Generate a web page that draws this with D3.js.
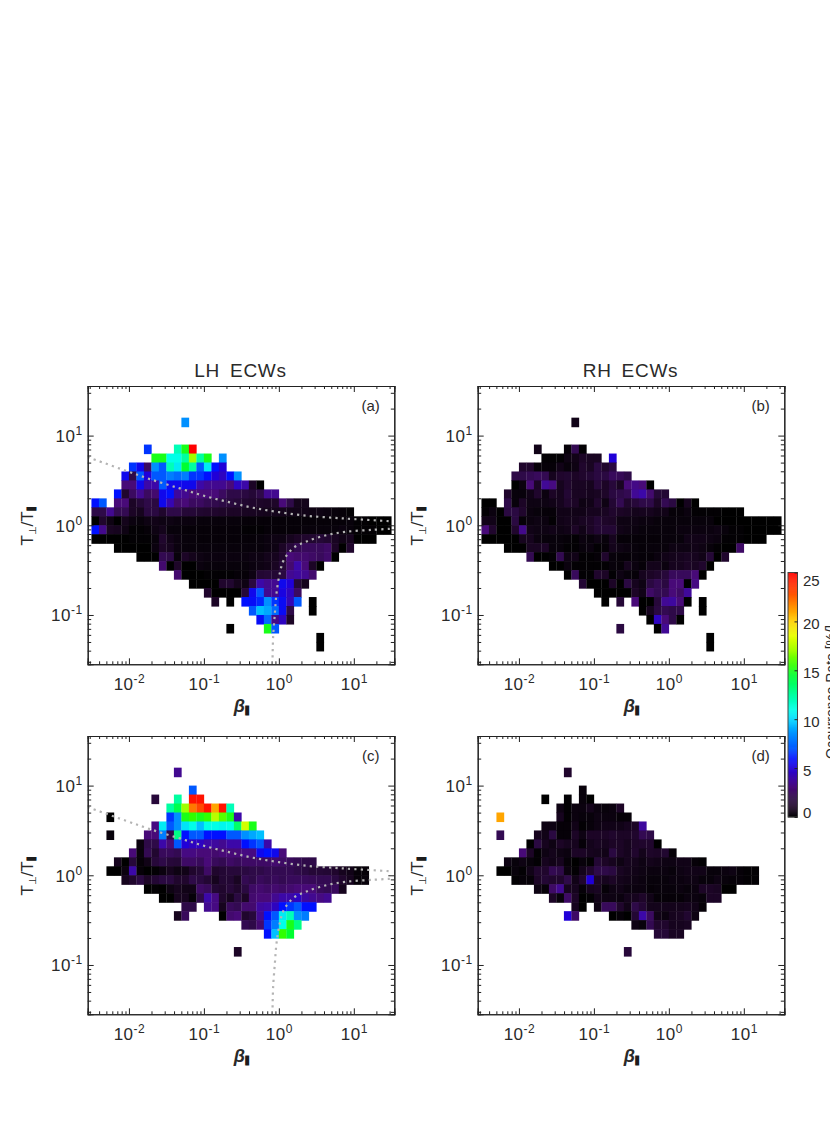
<!DOCTYPE html>
<html>
<head>
<meta charset="utf-8">
<title>ECW occurrence rate</title>
<script src="https://cdn.jsdelivr.net/npm/d3@7"></script>
<style>
html, body { margin: 0; padding: 0; background: #fff; overflow: hidden; }
text { font-family: "Liberation Sans", Arial, sans-serif; fill: #2a2a2a; }
</style>
</head>
<body>
<div id="chart"></div>
<script>
// each row: [row index (log10 y * 10), first column (0 = beta 10^-2.5, 0.1 dex wide), occurrence rate %]
var panelA = [
    [11, 12, [8.5]],
    [8, 7, [6.5]], [8, 11, [12, 15, 25]],
    [7, 8, [15, 15, 11, 11, 12.5, 17, 12.5, 15, null, 8.5]],
    [6, 5, [6.5, 5.5, 2.5, 8.5, 7, 12, 10.5, 14.5, 12.5, 7, 10.5, 6, 5]],
    [5, 4, [5.5, 2, 7, 5, 7, 7, 8, 7.5, 8, 6.5, 6.5, 6, 5, 4.5, 6, 8.5]],
    [4, 4, [3, 3, 5.5, 4, 4, 7, 5.5, 5.5, 5.5, 5.5, 4, 3.5, 3.5, 3.5, 3, 4.5, 4, 1, 0]],
    [3, 3, [6, 1.2, 2.5, 3.5, 2.5, 2.8, 5.5, 6, 3.8, 3.5, 3, 3, 3, 3, 2.5, 2, 2, 1.8, 1.5, 2, 3.5, 3.5]],
    [2, 0, [6, 7, null, 3, 3, 1, 1.5, 2, 1.8, 5.5, 4.2, 2.8, 3, 2.5, 2.5, 2.2, 2.1, 1.9, 1.7, 1.5, 1.3, 1.2, 1.1, 1, 1.1, 3, 2, .7, .7]],
    [1, 0, [2, 2, 3.5, 2.2, 2.2, 1, .8, 1.8, 1.8, 1.2, 2, 2, 1.5, 1.5, 1.3, 1.2, 1.2, 1.1, 1, 1, .9, .9, .8, .7, .7, .7, .6, .6, .6, .5, .5, .4, .3, .2, .1]],
    [0, 0, [0, 1.2, .5, 0, .7, .4, .3, .5, .6, .5, .5, .4, .4, .4, .3, .3, .3, .3, .3, .3, .2, .2, .2, .2, .2, .2, .2, .2, .2, .2, .2, .2, .2, .2, .3, .1, .1, 0, 0, 0]],
    [-1, 0, [6, 3.4, .9, .8, .5, .1, .1, .2, .5, .7, .3, .3, .2, .2, .2, .2, .2, .2, .2, .2, .1, .1, .1, .2, .2, .2, .2, .2, .3, .3, .3, .3, .3, .4, .3, .1, .1, .1, 0, 0]],
    [-2, 0, [0, 0, 0, 0, 0, .1, .1, .1, .3, 1.2, .6, .4, .3, .3, .2, .2, .2, .2, .2, .2, .2, .2, .3, .4, .5, .5, .8, 1, 1.2, 1.3, 1.5, 1.3, .9, .6, .8, 0, 0, 0]],
    [-3, 3, [0, 0, 0, 0, 0, .4, 1, .8, .4, .3, .3, .3, .3, .3, .3, .3, .3, .3, .3, .3, .4, .5, 1, 1.6, 2.2, 2.4, 2.4, 2.4, 2.6, 1, 0, 1.2]],
    [-4, 6, [0, 0, 0, 2.2, 2, .3, 1, .7, .5, .4, .4, .4, .4, .4, .4, .5, .5, .7, .8, 1.2, 3, 2.8, 2.8, 2.6, 2.4, 2.7, 0]],
    [-5, 9, [2.8, 0, 1.1, 0, 0, .4, .3, .3, .3, .3, .3, .3, .4, .5, .6, .9, 1.5, 2.8, 4, 3, 1, 0]],
    [-6, 11, [2.8, 0, 0, 0, .1, .1, .1, .1, .2, .2, .5, 1.4, 1.5, 1.4, 1.8, 3.5, 3.8, 3.5, 2.8]],
    [-7, 13, [0, 0, 0, 0, 1.2, 1.3, .7, .5, 1.8, 4, 3.5, 3.5, 5.5, 5, 1.5, .8]],
    [-8, 15, [1.2, 0, 0, 0, 0, 1.5, 5.5, 7, 3.5, 3.5, 5.2, 4.5, 2.5]],
    [-9, 16, [1]], [-9, 18, [0]], [-9, 20, [6, 5.8, 6.3, 8.5, 6.5, 5.7, 4.3, 7]], [-9, 29, [0]],
    [-10, 21, [7, 9.5, 9, 7.5, 5.7, 2]], [-10, 29, [0]],
    [-11, 22, [5.8, 7.5, 3.3, 4.5, 1]],
    [-12, 18, [0]], [-12, 23, [15, 7]],
    [-13, 30, [0]],
    [-14, 30, [0]]
];

var panelB = [
    [11, 12, [.6]],
    [8, 7, [.6]], [8, 11, [.2, 2.2, .1]],
    [7, 8, [.1, .1, .1, .5, .6, 1, .9, .9, null, 5]],
    [6, 5, [1.2, 1.2, .2, .2, .2, .6, .3, .5, 1.2, .9, 1.8, 1.2, 1.8]],
    [5, 4, [2, 2, 2.2, 2.4, 2.2, .8, 1.2, 1.3, 1, 1.2, 1.4, 1.8, 1.8, 2.4, 2.3, 2]],
    [4, 4, [0, .4, 3, 1, 3.6, 3.2, .8, 1.2, .9, .9, .8, 1.6, 1, 1.6, .9, 3, 3.3, 3, 0]],
    [3, 3, [1.2, .3, .3, .6, 1.2, .4, 1, .8, 1.4, .9, .9, .8, .9, 1.1, 1.8, 2, 2.2, 3.6, 4, 2.8, 1.5, 1.4]],
    [2, 0, [0, 0, null, 2, .3, 1, .5, .5, .5, .6, .8, 1.2, 1, .5, .6, 1.2, .5, 1.4, 2.2, 1.2, 1.6, 2, 2, 1, 2.2, 1.8, 0, .8, 0]],
    [1, 0, [.1, .4, 0, 1.8, 1.8, 1.2, .4, .3, .2, .2, .6, .6, .6, .6, .8, .8, .9, 1.2, 1, .9, .7, .8, .8, .6, .6, .2, .2, .4, .1, .1, .1, .1, 0, 0, 0]],
    [0, 0, [.6, .6, 0, 0, 1.8, .2, .4, .5, .4, .1, .6, .7, .7, .9, 1, 1.4, 1.1, 1, .5, .5, .5, .4, .4, .3, .3, .3, .3, .3, .3, .3, .3, 0, 0, 0, 0, 0, 0, 0, 0, 0]],
    [-1, 0, [3, 1.2, 0, 0, 1.2, 3.4, .6, .5, .5, .6, .5, .6, 1, .6, 1, 1.4, 1.4, 1.4, .6, .5, .4, .3, .3, .3, .3, .3, .4, .4, .4, .4, .4, .5, .3, .1, .1, 0, 0, 0, 0, 0]],
    [-2, 0, [0, 0, 0, 0, 0, .8, .8, .4, .3, .3, .3, .2, .1, .4, .3, .5, .3, .8, .2, .2, .2, .2, .2, .2, .3, .3, .3, .6, .6, .6, .5, .4, .1, .1, .1, 0, 0, 0]],
    [-3, 3, [0, 0, 0, .9, .9, 1, .3, .3, .1, .1, .3, .4, .1, .2, .7, .5, .4, .3, .2, .3, .3, .3, .5, .5, .5, .6, .5, .3, .1, 0, 0, 2.6]],
    [-4, 6, [2.2, 0, 0, .1, 2.2, .5, .6, .1, .1, .2, 1.2, .3, .2, .2, .3, .2, .2, .4, .6, .7, .8, .9, .8, .6, 1.5, 0, 1.2]],
    [-5, 9, [0, 0, .4, .1, .1, .1, .1, .1, .3, .2, .8, .4, .2, .7, .7, .4, .8, .8, 1, .9, 1.2, 0]],
    [-6, 11, [0, 2.4, .1, .1, 1.2, 1, .1, .5, .3, .2, .8, 1, 1.2, 1.6, 2.4, 2.4, 2.4, 3, 0]],
    [-7, 13, [1.4, 0, 0, 0, 1, 0, 1.8, .8, .5, 1.8, 2.2, 1.8, 3, 3, 0, 3.2]],
    [-8, 15, [0, 0, 0, 0, 0, 1, .6, 2.6, 2.2, 2.2, 3, 2.6, 3.7]],
    [-9, 16, [0]], [-9, 18, [1.5]], [-9, 20, [3, 0, 0, 1.6, 3.6, 3.8, 3, 0]], [-9, 29, [0]],
    [-10, 21, [0, .8, 1.8, 2.2, 2, 2]], [-10, 29, [0]],
    [-11, 22, [0, 4.5, 3, 2, 0]],
    [-12, 18, [1.8]], [-12, 23, [0, 3.6]],
    [-13, 30, [0]],
    [-14, 30, [0]]
];

var panelC = [
    [11, 11, [3.5]],
    [9, 13, [7]],
    [8, 8, [1.6]], [8, 11, [12.5, null, 24.5, 24.5]],
    [7, 10, [12.5, 14, 17, 22, 23, 24.5, 21, 24.5, 12]],
    [6, 2, [0]], [6, 10, [6.5, 8.5, 15, 15.5, 15, 15.5, 17.5, 16, 15, 4]],
    [5, 8, [3.2, 10.5, 7, 8.5, 10.3, 11, 9.5, 11, 11, 10.8, 11, 13.5, 18, 15]],
    [4, 2, [.3]], [4, 7, [3, 3, 8, 2, 13, 6, 7, 7, 6, 6, 6, 7, 7, 8.5, 9, 9.5]],
    [3, 6, [.4, 2, 2, 4, 3, 7, 5, 4.5, 4.5, 4, 3.8, 3.5, 4, 4, 6, 6.5, 7, 4]],
    [2, 5, [3, .3, 2.2, 1.3, 2.4, 2.4, 2.2, 3.2, 3.2, 3, 3, 2.8, 3, 3, 3, 3.2, 3.2, 5.5, 6, 5.5, 3]],
    [1, 3, [.8, 0, 1.6, .2, .6, 1.6, 2, 1.6, 1.5, 2.6, 2.6, 2.4, 3, 2.4, 2.2, 2.6, 2.4, 2.6, 2.6, 2.6, 2.6, 2.8, 2.6, 2.4, 2.2, 2, 2]],
    [0, 2, [0, 0, .4, 4, .2, 0, .1, .4, .8, .5, .6, 1.2, 1.5, 2.6, 1.2, 1.4, 1.6, 1.6, 1.8, 2, 2, 2.2, 2.2, 2.2, 2.2, 2, 1.8, 1.5, 1.5, 1.4, 1.2, .8, .6, .2, .2]],
    [-1, 4, [.8, 1.2, 1.8, 1, 1.4, 1.8, 1.8, 1.2, 1.2, 2, 1.8, 1.4, .8, 1.4, 1.4, .9, 2.2, 2, 2.4, 2.2, 2.4, 2.2, 2.4, 2.4, 2.4, 2.3, 2.2, 2.2, 1.8, 1.2, .8, .2, .3]],
    [-2, 7, [0, .1, 0, .5, .8, .6, .6, 2.6, 2.4, 1.4, 1.2, 1.6, 1.2, 1.8, 2.6, 2.8, 2.6, 2.8, 2.6, 2.8, 3, 3, 3, 2.4, 2.2, 2.4, .8]],
    [-3, 9, [0, 0, .8, .8, .2, 2, 4, 3.2, 1.2, .8, 1.8, 1, 2.8, 3, 3, 3.5, 4, 4, 4.5, 3.8, 3.5, 3.2, 3.5]],
    [-4, 12, [2, 2, null, 3.5, 3.2, .8, 2.4, 2.2, 2.8, 2.8, 3.8, 4, 4.5, 6, 6.5, 7, 6, 6]],
    [-5, 11, [.8, 2.4]], [-5, 17, [0, 2.8, 3, 1.2, 1.6, 3.5, 6, 7, 10.5, 12, 8.5, 8]],
    [-6, 20, [2.2, 2, 2.8, 6.5, 8, 11, 15, 13]],
    [-7, 23, [6, 9.5, 15.5, 14.5]],
    [-9, 19, [1]]
];

var panelD = [
    [11, 11, [1.2]],
    [9, 13, [.3]],
    [8, 8, [0]], [8, 11, [.1, null, .3, 0]],
    [7, 10, [.5, .1, .4, .4, .7, .4, .3, .4, 1]],
    [6, 2, [21]], [6, 10, [.8, .1, .4, .3, .3, .5, .4, .4, .2, .2]],
    [5, 8, [.5, .5, .2, .2, .6, .1, .3, .5, .6, .6, .6, .8, 1, 3.8]],
    [4, 2, [2.2]], [4, 7, [.8, .6, 1.8, .2, .2, 1, .5, 1, 1, 1, 1.2, 1, 1, 1.2, 2.2, 2]],
    [3, 6, [0, 1.8, .8, .5, 1, .8, .8, .2, .7, .9, .8, 1, 1, .8, 1.1, 1.2, 1.2, 0]],
    [2, 5, [3, 1, .1, .5, .7, .5, .4, 1, 1, .8, .7, .6, 1.8, 1, .8, 1.2, .7, 1.1, 1, 1.3, .2]],
    [1, 3, [.5, .3, .5, .3, .1, .8, .6, .8, .2, 0, .3, .1, 1.4, 1, .8, .5, .8, .7, .5, .7, .6, .5, .5, .6, .6, .2, .1]],
    [0, 2, [0, 0, .3, .1, .6, 1.2, 1.2, 2.2, 2, .4, .1, .7, 1.2, 2, 2, 1.8, .9, .7, .6, .5, .4, .4, .4, .3, .5, .6, .6, .6, .3, .3, .4, .5, .2, .1, .1]],
    [-1, 4, [.1, .2, .2, 1, 1.4, 1.2, 1.2, 2, .6, 1.2, 5, 1, .8, 1, .7, .6, .5, .4, .3, .3, .3, .4, .4, .5, .5, .3, .3, .5, .3, .2, .2, .1, .1]],
    [-2, 7, [.5, .2, 2.6, 3.5, .8, .8, .2, .8, .9, .2, .5, .6, .4, .4, .4, .2, .3, .3, .3, .4, .3, .4, 1, 1, .9, 0, 0]],
    [-3, 9, [1, .3, 2.6, 1, 0, .1, .6, .5, .5, .4, .7, .8, 1.1, .6, .2, .2, .2, .2, .4, .4, .3, 1, 1]],
    [-4, 12, [.8, 0, null, .5, 2.4, 2.4, 1.2, .6, 2, 1.4, .7, .7, .7, .7, .7, .8, .6, .2]],
    [-5, 11, [5, 2.6]], [-5, 17, [0, .2, 0, 1.4, 4, 2.5, .6, .4, .8, .9, 1.3, .5]],
    [-6, 20, [.5, .3, 2.2, 1.2, 1.2, .8, .8, .9]],
    [-7, 23, [1.5, 1.5, .9, .9]],
    [-9, 19, [1.6]]
];

// dotted threshold curves, [log10 beta, log10 T ratio]
var upperCurve = [[-2.55, .76], [-2.05, .611], [-1.72, .515], [-1.32, .411], [-1, .329], [-.653, .255],
    [-.342, .195], [0, .147], [.369, .106], [.724, .084], [1, .069], [1.48, .046]];
var lowerCurve = [[-.084, -1.474], [-.076, -1.24], [-.053, -.98], [-.031, -.757], [.013, -.533], [.067, -.385],
    [.191, -.255], [.369, -.18], [.636, -.11], [.902, -.072], [1.258, -.05], [1.48, -.04]];

var xTicks = [0.01, 0.1, 1, 10];
var xTickExp = ["-2", "-1", "0", "1"];
var yTicks = [0.1, 1, 10];
var yTickExp = ["-1", "0", "1"];
var colorbarTicks = [0, 5, 10, 15, 20, 25];
var panelNames = ["(a)", "(b)", "(c)", "(d)"];

var plotW = 306.6, plotH = 278.3;
var svg = d3.select("#chart").append("svg")
    .attr("width", 830).attr("height", 1127)
    .style("display", "block");

var x = d3.scaleLog().domain([Math.pow(10, -2.55), Math.pow(10, 1.54)]).range([0, plotW]);
var y = d3.scaleLog().domain([Math.pow(10, -1.55), Math.pow(10, 1.553)]).range([plotH, 0]);

var color = d3.scaleLinear()
    .domain([0, 1, 2, 3, 4, 5, 6, 7, 8.5, 10, 11, 12.5, 14.5, 15.5, 17, 18.5, 20, 21.5, 23, 25])
    .range(["#000000", "#1c0526", "#2e0a48", "#480a78", "#3c08a8", "#2000d8", "#0010ff", "#0058ff", "#0090ff",
        "#00d8ff", "#00ffe8", "#00ffa0", "#00ff30", "#30ff00", "#a0ff00", "#e8ff00", "#ffd000", "#ff9000", "#ff4800", "#ff0000"])
    .clamp(true);

function minorTicks(scale) {
    var out = [];
    var dom = scale.domain();
    d3.range(-3, 2).forEach(function (k) {
        d3.range(2, 10).forEach(function (m) {
            var v = m * Math.pow(10, k);
            if (v > dom[0] && v < dom[1]) out.push(v);
        });
    });
    return out;
}

function exponentLabels(sel, exps) {
    sel.selectAll("text").each(function (d, i) {
        var t = d3.select(this).text("10");
        t.append("tspan").attr("dy", -7).attr("font-size", 12).text(exps[i]);
    });
}

function drawAxes(g) {
    // minor ticks first, then the majors with labels
    g.append("g").attr("transform", "translate(0," + plotH + ")")
        .call(d3.axisBottom(x).tickValues(minorTicks(x)).tickSize(-3).tickFormat(""));
    g.append("g")
        .call(d3.axisTop(x).tickValues(minorTicks(x)).tickSize(-3).tickFormat(""));
    g.append("g")
        .call(d3.axisLeft(y).tickValues(minorTicks(y)).tickSize(-3.5).tickFormat(""));
    g.append("g").attr("transform", "translate(" + plotW + ",0)")
        .call(d3.axisRight(y).tickValues(minorTicks(y)).tickSize(-3.5).tickFormat(""));

    var bottom = g.append("g").attr("transform", "translate(0," + plotH + ")")
        .call(d3.axisBottom(x).tickValues(xTicks).tickSize(-6).tickFormat(""));
    bottom.selectAll("text").attr("y", 25.7).attr("dy", 0).attr("font-size", 17)
        .style("letter-spacing", "0.5px").text("x");
    exponentLabels(bottom, xTickExp);

    g.append("g").call(d3.axisTop(x).tickValues(xTicks).tickSize(-6).tickFormat(""));

    var left = g.append("g")
        .call(d3.axisLeft(y).tickValues(yTicks).tickSize(-6).tickFormat(""));
    left.selectAll("text").attr("x", -5).attr("dy", 6).attr("font-size", 17)
        .style("letter-spacing", "0.5px").text("x");
    exponentLabels(left, yTickExp);

    g.append("g").attr("transform", "translate(" + plotW + ",0)")
        .call(d3.axisRight(y).tickValues(yTicks).tickSize(-6).tickFormat(""));

    g.selectAll(".domain").attr("stroke", "#222").attr("stroke-width", 1.1);
    g.selectAll(".tick line").attr("stroke", "#222");
    // axis groups set their own font, put ours back
    g.selectAll("g").attr("font-family", null).attr("font-size", null);

    var xt = g.append("text").attr("x", plotW / 2 + 0.5).attr("y", plotH + 47.5).attr("text-anchor", "middle");
    xt.append("tspan").attr("font-size", 18).attr("font-weight", "bold").attr("font-style", "italic").text("β");
    xt.append("tspan").attr("font-size", 9).attr("font-weight", "bold").attr("dy", 1)
        .style("font-family", "DejaVu Sans").style("stroke", "#1c1c1c").style("stroke-width", 1.2).text("∥");

    var yt = g.append("text")
        .attr("transform", "translate(-54.7," + (plotH / 2 + 1) + ") rotate(-90)")
        .attr("text-anchor", "middle").attr("font-size", 17);
    yt.append("tspan").text("T");
    yt.append("tspan").attr("font-size", 10).attr("dy", 3).style("font-family", "DejaVu Sans").text("⊥");
    yt.append("tspan").attr("dy", -3).text("/T");
    yt.append("tspan").attr("font-size", 9).attr("font-weight", "bold").attr("dy", 1)
        .style("font-family", "DejaVu Sans").style("stroke", "#1c1c1c").style("stroke-width", 1.2).text("∥");
}

function drawPanel(rows, left, top, name, idx, showCurves) {
    var g = svg.append("g").attr("transform", "translate(" + left + "," + top + ")");

    // flatten rows into cells
    var cells = [];
    rows.forEach(function (r) {
        r[2].forEach(function (v, i) {
            if (v !== null) cells.push({ row: r[0], col: r[1] + i, value: v });
        });
    });

    // a hair of overlap so the seams stay faint
    g.selectAll("rect.cell").data(cells).enter().append("rect")
        .attr("class", "cell")
        .attr("x", function (d) { return x(Math.pow(10, -2.5 + d.col / 10)); })
        .attr("y", function (d) { return y(Math.pow(10, (d.row + 1) / 10)); })
        .attr("width", function (d) {
            return x(Math.pow(10, -2.5 + (d.col + 1) / 10)) - x(Math.pow(10, -2.5 + d.col / 10)) + 0.25;
        })
        .attr("height", function (d) {
            return y(Math.pow(10, d.row / 10)) - y(Math.pow(10, (d.row + 1) / 10)) + 0.6;
        })
        .attr("fill", function (d) { return color(d.value); });

    if (showCurves) {
        var clipId = "clip" + idx;
        svg.append("clipPath").attr("id", clipId).append("rect")
            .attr("width", plotW).attr("height", plotH);
        var line = d3.line()
            .x(function (d) { return x(Math.pow(10, d[0])); })
            .y(function (d) { return y(Math.pow(10, d[1])); })
            .curve(d3.curveCatmullRom);
        [upperCurve, lowerCurve].forEach(function (c) {
            g.append("path").attr("d", line(c))
                .attr("clip-path", "url(#" + clipId + ")")
                .attr("fill", "none")
                .attr("stroke", "#b4b4b4")
                .attr("stroke-width", 2.2)
                .attr("stroke-dasharray", "2.2 4.2");
        });
    }

    drawAxes(g);

    g.append("text").attr("x", 283).attr("y", 25).attr("text-anchor", "middle")
        .attr("font-size", 15).text(name);
    return g;
}

var lefts = [87.7, 477.7];
var tops = [386, 736];
drawPanel(panelA, lefts[0], tops[0], panelNames[0], 0, true);
drawPanel(panelB, lefts[1], tops[0], panelNames[1], 1, false);
drawPanel(panelC, lefts[0], tops[1], panelNames[2], 2, true);
drawPanel(panelD, lefts[1], tops[1], panelNames[3], 3, false);

// column titles
svg.append("text").attr("x", 240.5).attr("y", 377).attr("text-anchor", "middle")
    .attr("font-size", 19).style("letter-spacing", "0.7px").style("word-spacing", "4px").text("LH ECWs");
svg.append("text").attr("x", 630.5).attr("y", 377).attr("text-anchor", "middle")
    .attr("font-size", 19).style("letter-spacing", "0.7px").style("word-spacing", "4px").text("RH ECWs");

// colour bar
var barScale = d3.scaleLinear().domain([0, 25]).range([817, 572.5]);
var bar = svg.append("g").attr("transform", "translate(788,0)");
bar.selectAll("rect.step").data(d3.range(0, 25, 0.1)).enter().append("rect")
    .attr("class", "step")
    .attr("x", 0).attr("width", 9.5)
    .attr("y", function (d) { return barScale(d + 0.1); })
    .attr("height", function (d) { return barScale(d) - barScale(d + 0.1) + 0.4; })
    .attr("fill", function (d) { return color(d); });
bar.append("rect").attr("x", 0).attr("y", 572.5).attr("width", 9.5).attr("height", 244.5)
    .attr("fill", "none").attr("stroke", "#444").attr("stroke-width", 1);

var barAxis = bar.append("g").attr("transform", "translate(9.5,0)")
    .call(d3.axisRight(barScale).tickValues(colorbarTicks).tickSize(-3).tickPadding(8));
barAxis.select(".domain").remove();
barAxis.attr("font-family", null).attr("font-size", null);
barAxis.selectAll(".tick line").attr("stroke", "#222");
barAxis.selectAll("text").attr("font-size", 15).attr("x", 5.5).attr("dy", function (d) {
    return d === 0 ? 0 : d === 25 ? 13 : 7;
});

svg.append("text")
    .attr("transform", "translate(835.5,759) rotate(-90)")
    .attr("font-size", 14)
    .text("Occurrence Rate [%/]");
</script>
</body>
</html>
